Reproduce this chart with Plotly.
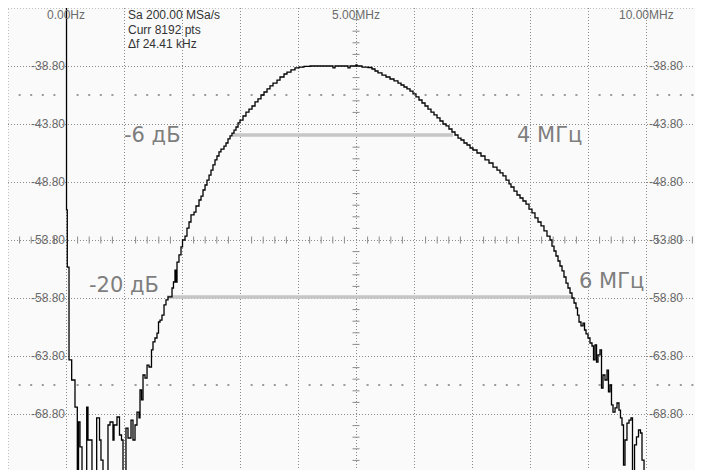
import numpy as np
import plotly.graph_objects as go

# ---- data (frequency in MHz, level in dB) ----
freq_mhz = [
    0.0, 0.009, 0.022, 0.052, 0.098, 0.155, 0.195, 0.216, 0.241, 0.276,
    0.357, 0.379, 0.448, 0.529, 0.578, 0.603, 0.638, 0.724, 0.759, 0.810,
    0.828, 0.879, 0.922, 0.957, 0.983, 1.034, 1.069, 1.121, 1.155, 1.190,
    1.224, 1.259, 1.276, 1.302, 1.328, 1.362, 1.397, 1.431, 1.474, 1.500,
    1.534, 1.569, 1.595, 1.621, 1.655, 1.690, 1.724, 1.759, 1.828, 1.853,
    1.879, 1.897, 1.914, 1.948, 1.983, 2.009, 2.052, 2.086, 2.121, 2.155,
    2.207, 2.241, 2.293, 2.328, 2.362, 2.397, 2.431, 2.466, 2.500, 2.534,
    2.569, 2.603, 2.638, 2.672, 2.724, 2.759, 2.793, 2.828, 2.862, 2.897,
    2.931, 2.966, 3.000, 3.052, 3.103, 3.155, 3.207, 3.259, 3.310, 3.362,
    3.414, 3.466, 3.517, 3.569, 3.638, 3.690, 3.759, 3.810, 3.879, 3.948,
    4.017, 4.103, 4.207, 4.603, 4.638, 4.862, 4.897, 5.000, 5.017, 5.103,
    5.207, 5.276, 5.328, 5.379, 5.448, 5.517, 5.586, 5.655, 5.724, 5.776,
    5.828, 5.879, 5.931, 5.983, 6.034, 6.086, 6.138, 6.190, 6.241, 6.293,
    6.345, 6.397, 6.448, 6.500, 6.552, 6.603, 6.655, 6.707, 6.759, 6.810,
    6.862, 6.914, 6.966, 7.017, 7.086, 7.155, 7.224, 7.293, 7.362, 7.431,
    7.483, 7.534, 7.586, 7.638, 7.672, 7.724, 7.776, 7.828, 7.879, 7.931,
    7.983, 8.034, 8.086, 8.138, 8.190, 8.241, 8.293, 8.345, 8.379, 8.414,
    8.448, 8.483, 8.517, 8.552, 8.586, 8.621, 8.655, 8.690, 8.724, 8.759,
    8.793, 8.819, 8.845, 8.879, 8.914, 8.940, 8.966, 9.000, 9.034, 9.069,
    9.095, 9.121, 9.147, 9.172, 9.207, 9.233, 9.259, 9.293, 9.328, 9.353,
    9.379, 9.405, 9.431, 9.466, 9.500, 9.534, 9.560, 9.586, 9.612, 9.638,
    9.672, 9.707, 9.741, 9.767, 9.802, 9.836, 9.871, 9.905, 9.931, 9.966,
    10.034,
]
level_db = [
    -28.0, -51.21, -56.13, -64.14, -65.87, -68.20, -75.0, -69.49, -71.64, -75.0,
    -68.20, -71.04, -75.0, -69.14, -71.04, -72.77, -75.0, -69.75, -69.49, -71.04,
    -69.75, -69.06, -70.61, -71.04, -75.0, -70.01, -70.87, -69.32, -71.04, -69.75,
    -68.63, -69.14, -66.73, -67.59, -65.44, -65.70, -64.58, -64.75, -63.28, -62.59,
    -62.25, -61.82, -60.87, -60.70, -60.27, -59.40, -58.97, -58.71, -57.94, -57.42,
    -56.39, -57.42, -55.70, -55.09, -54.40, -53.80, -53.46, -52.77, -52.25, -51.64,
    -51.39, -50.87, -50.35, -50.01, -49.49, -49.06, -48.63, -48.20, -47.77, -47.33,
    -46.90, -46.56, -46.21, -45.96, -45.70, -45.44, -45.09, -44.83, -44.58, -44.32,
    -44.06, -43.71, -43.46, -43.11, -42.77, -42.51, -42.25, -41.90, -41.64, -41.30,
    -41.04, -40.78, -40.52, -40.27, -40.01, -39.75, -39.49, -39.32, -39.14, -38.97,
    -38.89, -38.84, -38.80, -38.97, -38.80, -38.97, -38.80, -38.71, -38.80, -38.89,
    -38.93, -39.06, -39.23, -39.40, -39.58, -39.75, -39.92, -40.09, -40.27, -40.44,
    -40.61, -40.78, -40.96, -41.21, -41.47, -41.73, -41.99, -42.25, -42.51, -42.77,
    -43.02, -43.28, -43.54, -43.80, -43.97, -44.23, -44.49, -44.75, -45.01, -45.18,
    -45.44, -45.61, -45.87, -46.04, -46.30, -46.56, -46.90, -47.16, -47.51, -47.77,
    -48.02, -48.28, -48.63, -48.97, -49.23, -49.58, -49.92, -50.18, -50.44, -50.70,
    -51.13, -51.47, -51.90, -52.25, -52.59, -53.02, -53.46, -53.80, -54.32, -54.75,
    -55.18, -55.61, -56.04, -56.47, -56.99, -57.51, -57.94, -58.37, -58.80, -59.23,
    -59.66, -60.27, -60.87, -61.21, -60.96, -61.56, -61.90, -62.25, -62.68, -62.94,
    -64.14, -62.85, -64.32, -63.71, -63.28, -66.56, -65.44, -65.87, -65.01, -66.90,
    -66.30, -68.02, -68.63, -68.28, -67.85, -68.46, -69.14, -69.75, -73.20, -71.04,
    -69.58, -69.32, -69.14, -75.0, -71.47, -70.78, -70.18, -70.44, -72.77, -75.0,
    -75.0,
]

# marker lines (-6 dB and -20 dB bandwidth)
bw6_freq = [2.879, 6.672]
bw6_level = [-44.75, -44.75]
bw20_freq = [1.741, 8.741]
bw20_level = [-58.71, -58.71]

# axis tick labels
x_tick_vals = [0, 5, 10]
x_tick_text = ["0.00Hz", "5.00MHz", "10.00MHz"]
y_tick_vals = [-38.8, -43.8, -48.8, -53.8, -58.8, -63.8, -68.8]
y_tick_text = ["-38.80", "-43.80", "-48.80", "-53.80", "-58.80", "-63.80", "-68.80"]

info_lines = ["Sa 200.00 MSa/s", "Curr 8192 pts", "Δf 24.41 kHz"]
info_y = [-34.40, -35.69, -36.90]

# ---- geometry of the scope screen (page body has an 8px margin) ----
X0, X1 = -1.0, -1.0 + 703 / 58
Y1 = -33.8
Y0 = -33.8 - 470 / 11.6
GRID = "#8a8a8a"
LABEL = "#6a6a6a"

fig = go.Figure()

# sub-division decorations
sub_x = [v for v in np.round(np.arange(-1, 11.01, 0.2), 3) if abs(v - round(v)) > 1e-6]
sub_y = [v for v in np.round(np.arange(-73.8, -33.79, 1.0), 3)
         if abs(((v + 38.8) / 5) - round((v + 38.8) / 5)) > 1e-6]

fig.add_trace(go.Scatter(x=sub_x, y=[-53.8] * len(sub_x), mode="markers",
                         marker=dict(symbol="line-ns", size=5, line=dict(width=1, color=GRID)),
                         hoverinfo="skip", showlegend=False))
fig.add_trace(go.Scatter(x=[5] * len(sub_y), y=sub_y, mode="markers",
                         marker=dict(symbol="line-ew", size=5, line=dict(width=1, color=GRID)),
                         hoverinfo="skip", showlegend=False))
for yrow in (-41.3, -66.3):
    fig.add_trace(go.Scatter(x=sub_x, y=[yrow] * len(sub_x), mode="markers",
                             marker=dict(symbol="square", size=2, color="#9a9a9a", line=dict(width=0)),
                             hoverinfo="skip", showlegend=False))

# bandwidth marker lines
fig.add_trace(go.Scatter(x=bw6_freq, y=bw6_level, mode="lines",
                         line=dict(color="#c6c6c6", width=3.5), hoverinfo="skip", showlegend=False))
fig.add_trace(go.Scatter(x=bw20_freq, y=bw20_level, mode="lines",
                         line=dict(color="#c6c6c6", width=3.5), hoverinfo="skip", showlegend=False))

# spectrum trace
fig.add_trace(go.Scatter(x=freq_mhz, y=level_db, mode="lines",
                         line=dict(color="#000000", width=1.3, shape="hv"),
                         showlegend=False))

ann = []
small = dict(family="Liberation Sans, Arial", size=12, color=LABEL)
for v, t in zip(x_tick_vals, x_tick_text):
    ann.append(dict(x=v, y=-34.4, text=t, xanchor="center", yanchor="middle", showarrow=False, font=small))
for v, t in zip(y_tick_vals, y_tick_text):
    ann.append(dict(x=0, y=v, text=t, xanchor="right", yanchor="middle", showarrow=False, xshift=1, font=small))
    ann.append(dict(x=10, y=v, text=t, xanchor="left", yanchor="middle", showarrow=False, xshift=1, font=small))
for t, yv in zip(info_lines, info_y):
    ann.append(dict(x=1.034, y=yv, text=t, xanchor="left", yanchor="middle", showarrow=False,
                    font=dict(family="Liberation Sans, Arial", size=12, color="#333333")))

big = dict(family="DejaVu Sans, Verdana", size=21, color="#7e7e7e")
ann.append(dict(x=0.966, y=-44.75, text="-6 дБ", xanchor="left", yanchor="middle", showarrow=False, font=big))
ann.append(dict(x=7.741, y=-44.75, text="4 МГц", xanchor="left", yanchor="middle", showarrow=False, font=big))
ann.append(dict(x=0.362, y=-57.68, text="-20 дБ", xanchor="left", yanchor="middle", showarrow=False, font=big))
ann.append(dict(x=8.810, y=-57.33, text="6 МГц", xanchor="left", yanchor="middle", showarrow=False, font=big))

fig.update_layout(
    width=703, height=470,
    margin=dict(l=0, r=0, t=0, b=0, pad=0),
    paper_bgcolor="#ffffff",
    plot_bgcolor="#fafafa",
    annotations=ann,
    xaxis=dict(range=[X0, X1], tick0=0, dtick=1, showticklabels=False, ticks="",
               showgrid=True, gridcolor=GRID, gridwidth=1, griddash="1px,2px",
               zeroline=False, showline=False, fixedrange=True),
    yaxis=dict(range=[Y0, Y1], tick0=-38.8, dtick=5, showticklabels=False, ticks="",
               showgrid=True, gridcolor=GRID, gridwidth=1, griddash="1px,2px",
               zeroline=False, showline=False, fixedrange=True),
    shapes=[
        dict(type="line", xref="paper", yref="paper", x0=0, x1=0, y0=0, y1=1,
             line=dict(color=GRID, width=1, dash="1px,2px")),
        dict(type="line", xref="paper", yref="paper", x0=0, x1=1, y0=1, y1=1,
             line=dict(color=GRID, width=1, dash="1px,2px")),
    ],
)

fig.write_html("out.html")
